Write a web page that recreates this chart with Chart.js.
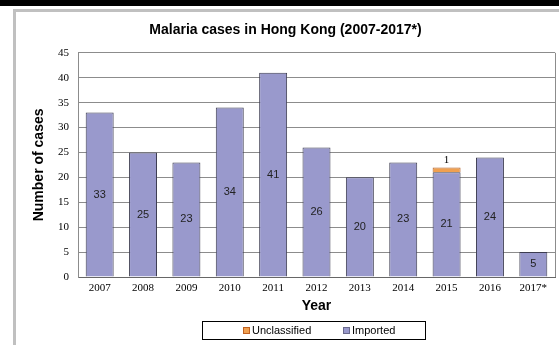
<!DOCTYPE html>
<html>
<head>
<meta charset="utf-8">
<script src="https://cdn.jsdelivr.net/npm/chart.js@4"></script>
<style>
  html, body { margin: 0; padding: 0; background: #fff; overflow: hidden; }
  #topbar { position: absolute; left: 0; top: 0; width: 559px; height: 6px; background: #000; }
  #frame  { position: absolute; left: 13px; top: 9px; width: 546px; height: 336px;
            border-left: 3px solid #c0c0c0; border-top: 3px solid #c0c0c0; box-sizing: border-box; }
  #wrap   { position: absolute; left: 16px; top: 12px; width: 543px; height: 333px; }
</style>
</head>
<body>
<div id="topbar"></div>
<div id="frame"></div>
<div id="wrap"><canvas id="malariaChart"></canvas></div>
<script>
'use strict';
// data
const years        = ['2007', '2008', '2009', '2010', '2011', '2012', '2013', '2014', '2015', '2016', '2017*'];
const imported     = [33, 25, 23, 34, 41, 26, 20, 23, 21, 24, 5];
const unclassified = [null, null, null, null, null, null, null, null, 1, null, null];
const yMax  = 45;
const yStep = 5;

const SANS  = 'Liberation Sans, Arial, sans-serif';
const SERIF = 'Liberation Serif, Times New Roman, serif';
const COL_IMPORTED = '#9999cc';
const COL_UNCLASS  = '#f0a050';

// numbers inside / above bars
const barLabels = {
  id: 'barLabels',
  afterDatasetsDraw(chart) {
    const ctx = chart.ctx;
    ctx.save();
    ctx.textAlign = 'center';
    ctx.textBaseline = 'middle';
    chart.data.datasets.forEach((ds, di) => {
      const meta = chart.getDatasetMeta(di);
      meta.data.forEach((el, i) => {
        const v = ds.data[i];
        if (v == null) return;
        if (di === 0) {
          ctx.font = '11px ' + SANS;
          ctx.fillStyle = '#222';
          ctx.fillText(String(v), el.x, (el.y + el.base) / 2);
        } else {
          ctx.font = '11px ' + SERIF;
          ctx.fillStyle = '#000';
          ctx.fillText(String(v), el.x, el.y - 7);
        }
      });
    });
    ctx.restore();
  }
};

// right edge of the plot frame
const plotFrame = {
  id: 'plotFrame',
  beforeDatasetsDraw(chart) {
    const { ctx, chartArea: a } = chart;
    ctx.save();
    ctx.strokeStyle = '#8c8c8c';
    ctx.lineWidth = 1;
    ctx.beginPath();
    ctx.moveTo(Math.round(a.right) + 0.5, a.top);
    ctx.lineTo(Math.round(a.right) + 0.5, a.bottom);
    ctx.stroke();
    ctx.restore();
  }
};

// boxed legend under the axis title, Unclassified first
const boxLegend = {
  id: 'boxLegend',
  afterDraw(chart) {
    const { ctx, chartArea: a } = chart;
    const w = 223, h = 18;
    const left = Math.round((a.left + a.right) / 2 - w / 2 - 3) + 0.5;
    const top  = Math.round(a.bottom + 44) + 0.5;
    ctx.save();
    ctx.strokeStyle = '#000';
    ctx.lineWidth = 1;
    ctx.strokeRect(left, top, w, h);
    const items = [chart.data.datasets[1], chart.data.datasets[0]];
    const offs = [40, 140];
    ctx.font = '11px ' + SANS;
    ctx.textBaseline = 'middle';
    ctx.textAlign = 'left';
    items.forEach((ds, k) => {
      const bx = Math.round(left + offs[k]);
      const by = Math.round(top + h / 2 - 3.5);
      ctx.fillStyle = ds.backgroundColor;
      ctx.fillRect(bx, by, 7, 7);
      ctx.strokeStyle = ds.legendBorder;
      ctx.strokeRect(bx + 0.5, by + 0.5, 6, 6);
      ctx.fillStyle = '#000';
      ctx.fillText(ds.label, bx + 9, top + h / 2 + 0.5);
    });
    ctx.restore();
  }
};

new Chart(document.getElementById('malariaChart'), {
  type: 'bar',
  data: {
    labels: years,
    datasets: [
      { label: 'Imported', data: imported, backgroundColor: COL_IMPORTED,
        borderColor: '#3c3c50', borderWidth: 1, legendBorder: '#6a6a8c' },
      { label: 'Unclassified', data: unclassified, backgroundColor: COL_UNCLASS,
        borderColor: '#b0602a', borderWidth: 1, legendBorder: '#c06020' },
    ],
  },
  options: {
    responsive: true,
    maintainAspectRatio: false,
    animation: false,
    datasets: { bar: { categoryPercentage: 1, barPercentage: 0.645 } },
    layout: { padding: { left: 0, right: 4, top: 0, bottom: 23 } },
    plugins: {
      legend: { display: false },
      tooltip: { enabled: false },
      title: {
        display: true,
        text: 'Malaria cases in Hong Kong (2007-2017*)',
        color: '#000',
        font: { family: SANS, size: 14, weight: 'bold' },
        padding: { top: 10, bottom: 14 },
      },
    },
    scales: {
      x: {
        stacked: true,
        grid: { display: false, drawTicks: false },
        border: { color: '#666' },
        ticks: { color: '#000', font: { family: SERIF, size: 11 }, padding: 5, maxRotation: 0 },
        title: { display: true, text: 'Year', color: '#000',
                 font: { family: SANS, size: 14, weight: 'bold' }, padding: { top: 0, bottom: 7 } },
        afterFit(s) { s.height = 45; },
      },
      y: {
        stacked: true,
        min: 0,
        max: yMax,
        grid: { color: '#8c8c8c', drawTicks: false },
        border: { color: '#8c8c8c' },
        ticks: { stepSize: yStep, color: '#000', font: { family: SERIF, size: 11 }, padding: 9 },
        title: { display: true, text: 'Number of cases', color: '#000',
                 font: { family: SANS, size: 14, weight: 'bold' }, padding: { top: 15, bottom: 0 } },
        afterFit(s) { s.width = 62; },
      },
    },
  },
  plugins: [plotFrame, barLabels, boxLegend],
});
</script>
</body>
</html>
